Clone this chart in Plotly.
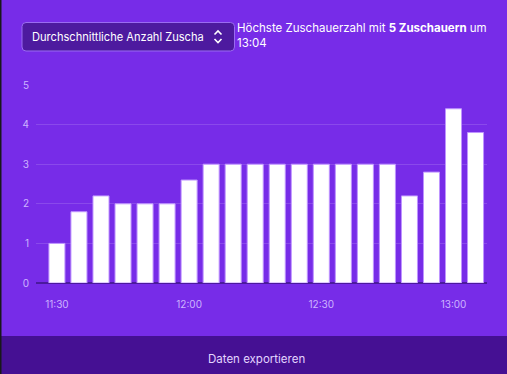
import plotly.graph_objects as go
import pandas as pd

times = pd.date_range("2024-01-01 11:30", periods=20, freq="5min")
viewers = [1, 1.8, 2.2, 2, 2, 2, 2.6, 3, 3, 3, 3, 3, 3, 3, 3, 3, 2.2, 2.8, 4.4, 3.8]
tick_times = ["2024-01-01 11:30", "2024-01-01 12:00", "2024-01-01 12:30", "2024-01-01 13:00"]
tick_labels = ["11:30", "12:00", "12:30", "13:00"]

W, H = 507, 374
L, R, T, B = 36, 20, 85, 91
pw, ph = W - L - R, H - T - B

def px(x):
    return (x - L) / pw

def py(y):
    return (H - B - y) / ph

BG = "#772ce8"
DARK = "#451093"
FONT = "Inter, Roboto, sans-serif"

fig = go.Figure(go.Bar(
    x=times, y=viewers,
    marker=dict(color="white", line=dict(color="#bf94ff", width=1)),
    width=16 / 22 * 5 * 60 * 1000,
    hoverinfo="skip",
))

shapes = []
# bottom bar
shapes.append(dict(type="rect", xref="paper", yref="paper",
                   x0=px(0), x1=px(W), y0=py(336), y1=py(H + 2),
                   fillcolor=DARK, line=dict(width=0), layer="below"))
# left dark edge
shapes.append(dict(type="rect", xref="paper", yref="paper",
                   x0=px(0), x1=px(1.5), y0=py(H + 2), y1=py(-2),
                   fillcolor="#18181b", line=dict(width=0)))
# dropdown box with rounded corners
x0, x1, y0, y1, r = 22, 234.5, 22.5, 51, 4
path = (f"M {px(x0+r)},{py(y0)} L {px(x1-r)},{py(y0)} Q {px(x1)},{py(y0)} {px(x1)},{py(y0+r)} "
        f"L {px(x1)},{py(y1-r)} Q {px(x1)},{py(y1)} {px(x1-r)},{py(y1)} "
        f"L {px(x0+r)},{py(y1)} Q {px(x0)},{py(y1)} {px(x0)},{py(y1-r)} "
        f"L {px(x0)},{py(y0+r)} Q {px(x0)},{py(y0)} {px(x0+r)},{py(y0)} Z")
shapes.append(dict(type="path", xref="paper", yref="paper", path=path,
                   fillcolor="#4d1a9f", line=dict(color="#9a6bf0", width=1)))
# chevrons
shapes.append(dict(type="path", xref="paper", yref="paper",
                   path=f"M {px(214.5)},{py(34.5)} L {px(218)},{py(31)} L {px(221.5)},{py(34.5)}",
                   line=dict(color="white", width=1.6)))
shapes.append(dict(type="path", xref="paper", yref="paper",
                   path=f"M {px(214.5)},{py(39)} L {px(218)},{py(42.5)} L {px(221.5)},{py(39)}",
                   line=dict(color="white", width=1.6)))

annotations = [
    dict(xref="paper", yref="paper", x=px(30), y=py(37), xanchor="left", yanchor="middle",
         text="Durchschnittliche Anzahl Zuscha", showarrow=False,
         font=dict(family=FONT, size=11.1, color="white")),
    dict(xref="paper", yref="paper", x=px(235), y=py(18.5), xanchor="left", yanchor="top",
         align="left", showarrow=False,
         text="Höchste Zuschauerzahl mit <b>5 Zuschauern</b> um<br>13:04",
         font=dict(family=FONT, size=11.5, color="white")),
    dict(xref="paper", yref="paper", x=px(256), y=py(358.5), xanchor="center", yanchor="middle",
         text="Daten exportieren", showarrow=False,
         font=dict(family=FONT, size=11.5, color="#e3d4ff")),
]

fig.update_layout(
    width=W, height=H,
    margin=dict(l=L, r=R, t=T, b=B),
    paper_bgcolor=BG, plot_bgcolor=BG,
    showlegend=False,
    shapes=shapes,
    annotations=annotations,
    font=dict(family=FONT),
    xaxis=dict(
        type="date",
        range=["2024-01-01 11:25:15", "2024-01-01 13:07:36"],
        tickvals=tick_times, ticktext=tick_labels,
        showgrid=False, zeroline=False,
        showline=False,
        ticks="", ticklabelstandoff=14,
        tickfont=dict(size=10, color="#cdb4ff", family=FONT),
        fixedrange=True,
    ),
    yaxis=dict(
        range=[0, 5],
        tickvals=[0, 1, 2, 3, 4, 5],
        showgrid=True, gridcolor="rgba(255,255,255,0.14)", gridwidth=1,
        zeroline=True, zerolinecolor="#4b1a9e", zerolinewidth=1.5,
        ticks="", ticklabelstandoff=6,
        tickfont=dict(size=10, color="#cdb4ff", family=FONT),
        fixedrange=True,
    ),
)

fig.write_html("out.html", config=dict(displayModeBar=False),
               post_script="document.body.style.margin='0';document.body.style.background='#772ce8';")
